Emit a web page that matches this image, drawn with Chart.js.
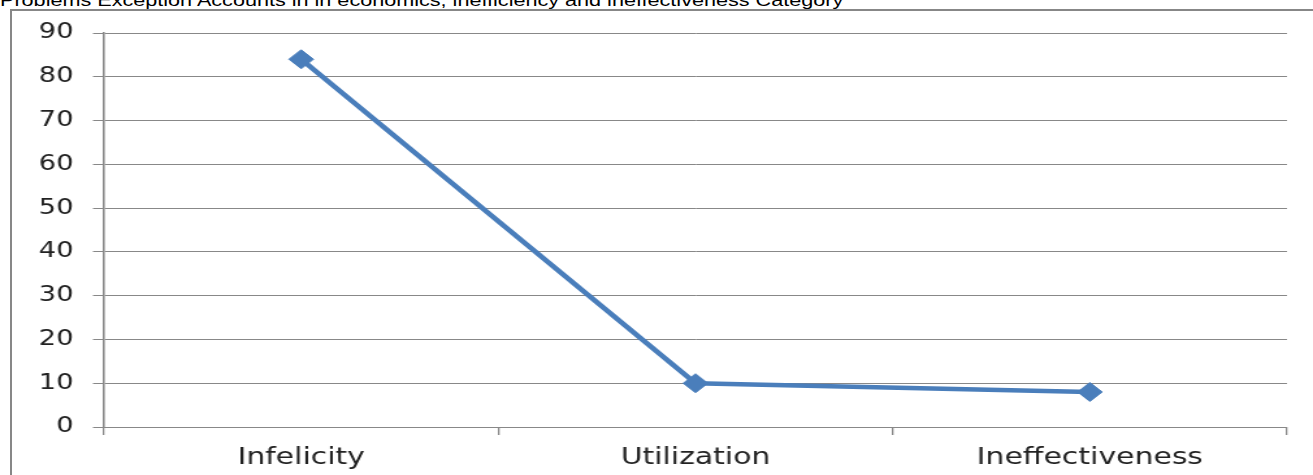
<!DOCTYPE html>
<html>
<head>
<meta charset="utf-8">
<script src="https://cdn.jsdelivr.net/npm/chart.js@4/dist/chart.umd.min.js"></script>
<style>
  html, body { margin: 0; padding: 0; background: #ffffff; overflow: hidden; }
  #page { position: relative; width: 1313px; height: 475px; overflow: hidden; }
  #frame {
    position: absolute; left: 10px; top: 9px; right: -10px; bottom: -10px;
    border-left: 2px solid #878787; border-top: 2px solid #878787;
  }
  #title {
    position: absolute; left: 0; top: -7px; white-space: nowrap;
    font-family: "Liberation Sans", Arial, sans-serif; font-size: 16px; line-height: 16px;
    color: #000000; transform: scaleX(1.35); transform-origin: 0 0;
  }
  #wrap {
    position: absolute; left: 0; top: 0; width: 1010px; height: 475px;
    transform: scaleX(1.3); transform-origin: 0 0;
  }
</style>
</head>
<body>
<div id="page">
  <div id="frame"></div>
  <div id="title">Problems Exception Accounts in in economics, inefficiency and ineffectiveness Category</div>
  <div id="wrap"><canvas id="chart" width="1010" height="475"></canvas></div>
</div>
<script>
// Categories and counts per category
const categories = ['Infelicity', 'Utilization', 'Ineffectiveness'];
const problemCounts = [84, 10, 8];

// Value axis range
const yMin = 0;
const yMax = 90;
const yStep = 10;

const lineBlue = '#4a7ebb';
const gridGray = '#888888';

new Chart(document.getElementById('chart'), {
  type: 'line',
  data: {
    labels: categories,
    datasets: [{
      data: problemCounts,
      borderColor: lineBlue,
      backgroundColor: lineBlue,
      borderWidth: 4.5,
      tension: 0,
      pointStyle: 'rectRot',
      pointRadius: 9.5,
      pointBackgroundColor: lineBlue,
      pointBorderColor: lineBlue,
      pointBorderWidth: 1
    }]
  },
  options: {
    responsive: false,
    animation: false,
    layout: { padding: { left: 0, right: 20, top: 33, bottom: 0 } },
    plugins: {
      legend: { display: false },
      title: { display: false },
      tooltip: { enabled: false }
    },
    scales: {
      x: {
        type: 'category',
        offset: true,
        grid: {
          offset: true,
          drawOnChartArea: false,
          drawTicks: true,
          tickLength: 8,
          color: gridGray,
          lineWidth: 1.3
        },
        border: { display: true, color: gridGray, width: 1 },
        ticks: {
          color: '#222222',
          padding: 9,
          maxRotation: 0,
          font: { family: '"DejaVu Sans", sans-serif', size: 23 }
        },
        afterFit: (scale) => { scale.height = 48; }
      },
      y: {
        min: yMin,
        max: yMax,
        grid: {
          drawTicks: true,
          tickLength: 8.5,
          color: gridGray,
          lineWidth: 1
        },
        border: { display: true, color: gridGray, width: 1.6 },
        ticks: {
          stepSize: yStep,
          color: '#222222',
          padding: 15,
          font: { family: '"DejaVu Sans", sans-serif', size: 21 }
        },
        afterFit: (scale) => { scale.width = 80; }
      }
    }
  }
});
</script>
</body>
</html>
